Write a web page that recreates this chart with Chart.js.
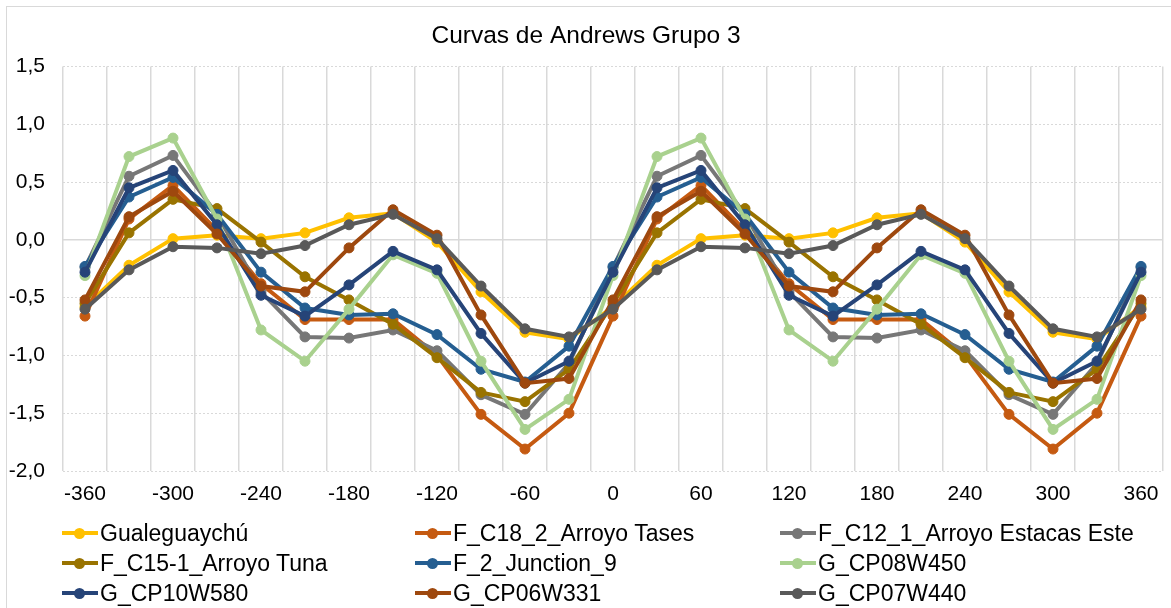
<!DOCTYPE html>
<html>
<head>
<meta charset="utf-8">
<script src="https://cdn.jsdelivr.net/npm/chart.js@4.4.0/dist/chart.umd.min.js"></script>
<style>
html, body { margin: 0; padding: 0; background: #fff; }
#wrap { position: relative; width: 1171px; height: 608px; overflow: hidden; font-family: "Liberation Sans", Arial, sans-serif; }
#frame { position: absolute; left: 6px; top: 6px; width: 1300px; height: 800px; border: 1px solid #d9d9d9; }
#myChart { position: absolute; left: 0; top: 0; }
.item { position: absolute; display: flex; align-items: center; height: 26px; font-size: 23px; color: #000; white-space: nowrap; }
.mk { position: relative; width: 36px; height: 26px; margin-right: 2px; }
.mk i { position: absolute; left: 0; top: 11px; width: 36px; height: 4px; }
.mk b { position: absolute; left: 12px; top: 7.5px; width: 11px; height: 11px; border-radius: 50%; }
</style>
</head>
<body>
<div id="wrap">
  <div id="frame"></div>
  <canvas id="myChart" width="1171" height="608"></canvas>
  <div id="legend"></div>
</div>
<script>
const angles = ['-360', '-330', '-300', '-270', '-240', '-210', '-180', '-150', '-120', '-90', '-60', '-30', '0',
    '30', '60', '90', '120', '150', '180', '210', '240', '270', '300', '330', '360']

const seriesNames = ['Gualeguaychú', 'F_C18_2_Arroyo Tases', 'F_C12_1_Arroyo Estacas Este',
    'F_C15-1_Arroyo Tuna', 'F_2_Junction_9', 'G_CP08W450',
    'G_CP10W580', 'G_CP06W331', 'G_CP07W440']

const gualeguaychu = [-0.58, -0.22, 0.01, 0.04, 0.01, 0.06, 0.19, 0.23, -0.02, -0.45, -0.80, -0.86, -0.58,
    -0.22, 0.01, 0.04, 0.01, 0.06, 0.19, 0.23, -0.02, -0.45, -0.80, -0.86, -0.58]
const arroyoTases = [-0.66, 0.18, 0.47, 0.08, -0.38, -0.69, -0.69, -0.69, -1.00, -1.51, -1.81, -1.50, -0.66,
    0.18, 0.47, 0.08, -0.38, -0.69, -0.69, -0.69, -1.00, -1.51, -1.81, -1.50, -0.66]
const estacasEste = [-0.24, 0.55, 0.73, 0.22, -0.45, -0.84, -0.85, -0.78, -0.96, -1.34, -1.51, -1.07, -0.24,
    0.55, 0.73, 0.22, -0.45, -0.84, -0.85, -0.78, -0.96, -1.34, -1.51, -1.07, -0.24]
const arroyoTuna = [-0.55, 0.06, 0.35, 0.27, -0.02, -0.32, -0.52, -0.73, -1.02, -1.32, -1.40, -1.12, -0.55,
    0.06, 0.35, 0.27, -0.02, -0.32, -0.52, -0.73, -1.02, -1.32, -1.40, -1.12, -0.55]
const junction9 = [-0.23, 0.37, 0.54, 0.22, -0.28, -0.59, -0.65, -0.64, -0.82, -1.12, -1.23, -0.92, -0.23,
    0.37, 0.54, 0.22, -0.28, -0.59, -0.65, -0.64, -0.82, -1.12, -1.23, -0.92, -0.23]
const cp08w450 = [-0.31, 0.72, 0.88, 0.18, -0.78, -1.05, -0.60, -0.13, -0.29, -1.05, -1.64, -1.38, -0.31,
    0.72, 0.88, 0.18, -0.78, -1.05, -0.60, -0.13, -0.29, -1.05, -1.64, -1.38, -0.31]
const cp10w580 = [-0.28, 0.45, 0.60, 0.13, -0.48, -0.66, -0.39, -0.10, -0.26, -0.81, -1.24, -1.05, -0.28,
    0.45, 0.60, 0.13, -0.48, -0.66, -0.39, -0.10, -0.26, -0.81, -1.24, -1.05, -0.28]
const cp06w331 = [-0.52, 0.20, 0.42, 0.05, -0.40, -0.45, -0.07, 0.26, 0.04, -0.65, -1.24, -1.20, -0.52,
    0.20, 0.42, 0.05, -0.40, -0.45, -0.07, 0.26, 0.04, -0.65, -1.24, -1.20, -0.52]
const cp07w440 = [-0.60, -0.26, -0.06, -0.07, -0.12, -0.05, 0.13, 0.22, 0.01, -0.40, -0.77, -0.84, -0.60,
    -0.26, -0.06, -0.07, -0.12, -0.05, 0.13, 0.22, 0.01, -0.40, -0.77, -0.84, -0.60]

const yTicks = [-2.0, -1.5, -1.0, -0.5, 0.0, 0.5, 1.0, 1.5]

const allSeries = [gualeguaychu, arroyoTases, estacasEste, arroyoTuna, junction9, cp08w450, cp10w580, cp06w331, cp07w440]
const colors = ['#FFC000', '#C55A11', '#777777', '#997300', '#255E91', '#A9D18E', '#264478', '#9E480E', '#595959']

const FONT = '"Liberation Sans", Arial, sans-serif'

const datasets = allSeries.map((vals, i) => ({
    label: seriesNames[i],
    data: vals,
    borderColor: colors[i],
    backgroundColor: colors[i],
    pointBackgroundColor: colors[i],
    pointBorderColor: colors[i],
    borderWidth: 4,
    pointRadius: 5,
    pointBorderWidth: 1,
    tension: 0,
    fill: false,
    order: -i // later series on top, like the original
}))

const ctx = document.getElementById('myChart').getContext('2d');
const myChart = new Chart(ctx, {
    type: 'line',
    data: {
        labels: angles,
        datasets: datasets
    },
    options: {
        responsive: false,
        animation: false,
        layout: { padding: { left: 9, right: 8, top: 0, bottom: 101 } },
        plugins: {
            legend: { display: false },
            tooltip: { enabled: false },
            title: {
                display: true,
                text: 'Curvas de Andrews Grupo 3',
                color: '#000',
                font: { family: FONT, size: 24.5, weight: 'normal' },
                padding: { top: 22, bottom: 15 }
            }
        },
        scales: {
            x: {
                type: 'category',
                offset: true,
                grid: { offset: true, color: '#d9d9d9', lineWidth: 1.5, drawTicks: false },
                border: { display: false },
                ticks: {
                    autoSkip: false,
                    maxRotation: 0,
                    padding: 11,
                    color: '#000',
                    font: { family: FONT, size: 21 },
                    callback: (val, i) => (i % 2 === 0 ? angles[i] : '')
                },
                afterFit: (scale) => { scale.height = 36 }
            },
            y: {
                min: yTicks[0],
                max: yTicks[yTicks.length - 1],
                afterBuildTicks: (scale) => { scale.ticks = yTicks.map(v => ({ value: v })) },
                grid: {
                    color: '#d9d9d9',
                    lineWidth: (c) => (c.tick && c.tick.value === 0 ? 1.5 : 1),
                    drawTicks: false
                },
                border: {
                    display: false,
                    dash: (c) => (c.tick && c.tick.value === 0 ? [] : [2, 2])
                },
                ticks: {
                    padding: 18,
                    color: '#000',
                    font: { family: FONT, size: 21 },
                    callback: (v) => Number(v).toFixed(1).replace('.', ',')
                },
                afterFit: (scale) => { scale.width = 54 }
            }
        }
    }
});

// legend in three fixed columns, like the spreadsheet one
const legendBox = document.getElementById('legend')
const colX = [62, 415, 780]
const rowY = [520, 550, 580]
seriesNames.forEach((name, i) => {
    const item = document.createElement('div')
    item.className = 'item'
    item.style.left = colX[i % 3] + 'px'
    item.style.top = rowY[Math.floor(i / 3)] + 'px'
    item.innerHTML = '<span class="mk"><i style="background:' + colors[i] + '"></i><b style="background:' + colors[i] + '"></b></span>'
    const txt = document.createElement('span')
    txt.textContent = name
    item.appendChild(txt)
    legendBox.appendChild(item)
})
</script>
</body>
</html>
